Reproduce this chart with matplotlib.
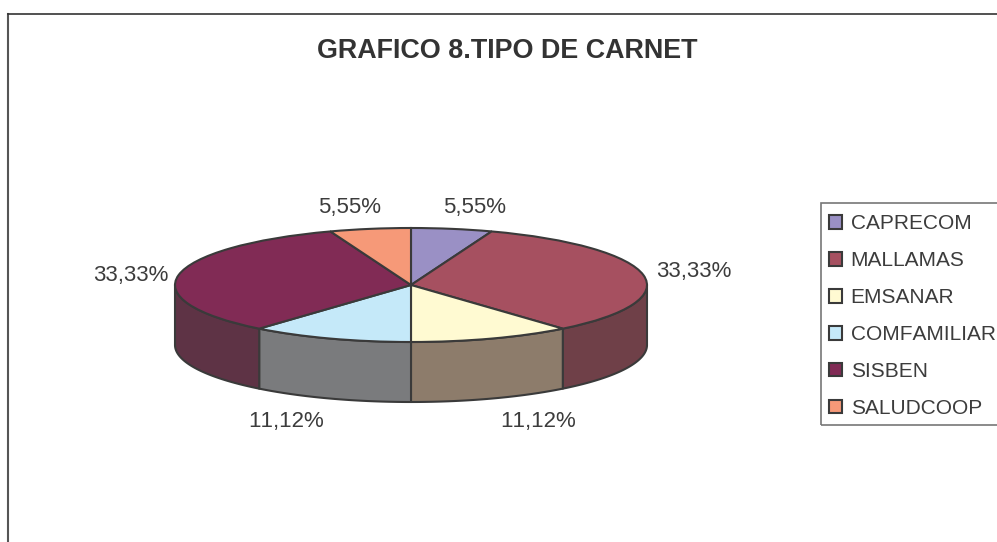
import matplotlib
matplotlib.use('Agg')
import matplotlib.pyplot as plt
from matplotlib.lines import Line2D
from matplotlib.patches import Rectangle
import numpy as np

plt.rcParams['font.family'] = ['Liberation Sans', 'DejaVu Sans']
plt.rcParams['text.kerning_factor'] = 6

W, H = 997, 542

categories = ['CAPRECOM', 'MALLAMAS', 'EMSANAR', 'COMFAMILIAR', 'SISBEN', 'SALUDCOOP']
values = [5.55, 33.33, 11.12, 11.12, 33.33, 5.55]
top_colors = ['#9A90C5', '#A65060', '#FFFAD2', '#C5E9F9', '#812B55', '#F69978']
side_colors = ['#6A6488', '#6F4048', '#8D7C6B', '#7A7B7D', '#5E3345', '#A86A54']
title = 'GRAFICO 8.TIPO DE CARNET'

edge = '#3A3A3A'
txt = '#3C3C3C'

# pie centre and radii in pixels, depth of the wall in pixels
cx, cy, rx, ry, depth = 411, 285, 236, 57, 60

fig = plt.figure(figsize=(W / 100, H / 100), dpi=100)
ax = fig.add_axes([0, 0, 1, 1])

# top face
wedges, _ = ax.pie(values, colors=top_colors, startangle=90, counterclock=False, radius=1,
                   wedgeprops={'edgecolor': edge, 'linewidth': 1.5, 'zorder': 3})

# axes units: one x unit = rx pixels, one y unit = ry pixels, pie centre at 0,0
ax.set_aspect('auto')
ax.set_xlim(-cx / rx, (W - cx) / rx)
ax.set_ylim(-(H - cy) / ry, cy / ry)

# outer wall, only the front half can be seen
d = depth / ry
bounds = np.concatenate([[0], np.cumsum(values)]) / sum(values) * 2 * np.pi
for a0, a1, col in zip(bounds[:-1], bounds[1:], side_colors):
    a0, a1 = max(a0, np.pi / 2), min(a1, 3 * np.pi / 2)
    if a1 <= a0:
        continue
    t = np.linspace(a0, a1, 80)
    xs = np.sin(t)
    ys = np.cos(t)
    ax.fill(np.r_[xs, xs[::-1]], np.r_[ys, ys[::-1] - d], facecolor=col, edgecolor=edge,
            linewidth=1.5, zorder=2, joinstyle='round')

# value labels, pixel anchor of each one
label_pos = [(475, 208), (694, 271), (538, 421), (286, 421), (131, 276), (350, 208)]
for v, (px, py) in zip(values, label_pos):
    fig.text(px / W, 1 - py / H, f'{v:.2f}%'.replace('.', ','), ha='center', va='center',
             fontsize=16, color=txt)

fig.text(507.5 / W, 1 - 50.5 / H, title, ha='center', va='center', fontsize=19.4, fontweight='bold', color='#333333')

# chart frame, cut by the image on the right and bottom
fig.add_artist(Line2D([8 / W, 8 / W], [0, 1 - 14 / H], color='#555555', lw=1.5))
fig.add_artist(Line2D([8 / W, 1], [1 - 14 / H, 1 - 14 / H], color='#333333', lw=1.2))

# legend box is drawn on its own, the rows sit a little low in it
fig.add_artist(Rectangle((821 / W, 1 - 425 / H), 200 / W, 222 / H, transform=fig.transFigure,
                         facecolor='none', edgecolor='#777777', linewidth=1.2))
leg = ax.legend(wedges, categories, loc='upper left', bbox_to_anchor=(820 / W, 1 - 205 / H),
                bbox_transform=fig.transFigure, fontsize=15, labelcolor=txt, frameon=False,
                borderaxespad=0, handlelength=0.62, handleheight=0.62,
                handletextpad=0.4, labelspacing=0.86, borderpad=0.45)

fig.savefig('out.png', dpi=100)
